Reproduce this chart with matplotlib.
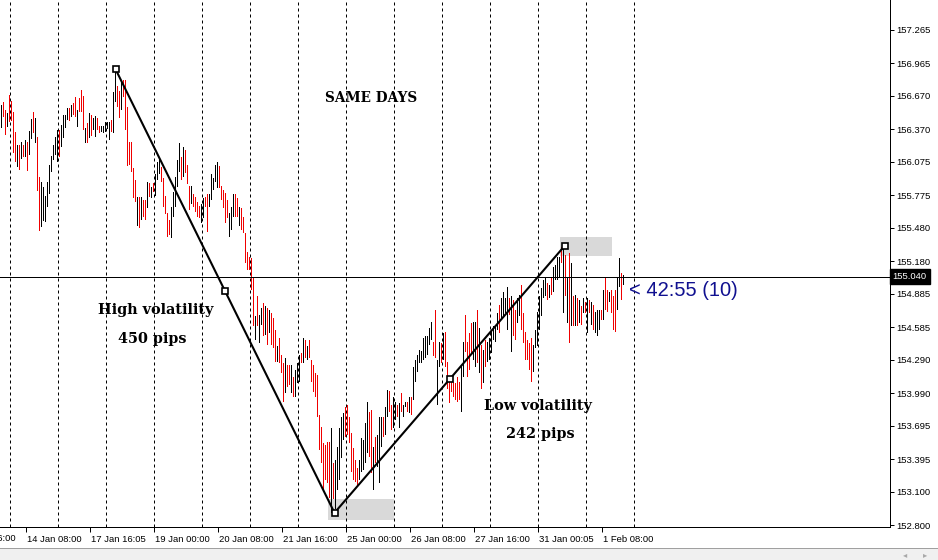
import matplotlib
matplotlib.use("Agg")
import matplotlib.pyplot as plt
import numpy as np
from matplotlib.patches import Rectangle
import matplotlib.transforms as mtransforms

# bar highs / lows (one bar per slot, left to right)
highs = [
    156.59, 156.61, 156.54, 156.51, 156.68, 156.62, 156.52, 156.34, 156.23, 156.23,
    156.25, 156.23, 156.27, 156.25, 156.35, 156.46, 156.52, 156.47, 156.30, 155.94,
    155.89, 155.85, 155.77, 155.89, 156.05, 156.13, 156.23, 156.30, 156.36, 156.36,
    156.41, 156.50, 156.50, 156.56, 156.56, 156.59, 156.60, 156.66, 156.54, 156.65,
    156.72, 156.67, 156.38, 156.42, 156.51, 156.50, 156.47, 156.49, 156.47, 156.40,
    156.40, 156.40, 156.43, 156.43, 156.43, 156.45, 156.70, 156.91, 156.76, 156.71,
    156.81, 156.81, 156.81, 156.57, 156.25, 156.25, 156.02, 155.91, 155.76, 155.76,
    155.76, 155.73, 155.73, 155.89, 155.88, 155.85, 155.88, 155.96, 156.07, 156.11,
    156.03, 155.93, 155.77, 155.61, 155.55, 155.67, 155.80, 155.94, 156.09, 156.24,
    156.12, 156.21, 156.18, 156.05, 155.86, 155.86, 155.78, 155.76, 155.71, 155.68,
    155.69, 155.75, 155.76, 155.78, 155.78, 155.96, 155.93, 156.05, 156.07, 156.04,
    155.86, 155.82, 155.79, 155.73, 155.61, 155.67, 155.78, 155.78, 155.75, 155.67,
    155.66, 155.58, 155.43, 155.26, 155.22, 155.21, 155.04, 154.68, 154.86, 154.69,
    154.76, 154.80, 154.77, 154.76, 154.74, 154.71, 154.67, 154.56, 154.41, 154.49,
    154.33, 154.26, 154.31, 154.24, 154.24, 154.24, 154.13, 154.20, 154.26, 154.33,
    154.35, 154.49, 154.47, 154.41, 154.47, 154.29, 154.24, 154.17, 154.15, 153.79,
    153.68, 153.54, 153.52, 153.55, 153.55, 153.67, 153.36, 153.39, 153.50, 153.67,
    153.77, 153.81, 153.86, 153.88, 153.77, 153.63, 153.49, 153.39, 153.31, 153.39,
    153.58, 153.57, 153.72, 153.91, 153.82, 153.84, 153.50, 153.59, 153.61, 153.77,
    153.77, 153.77, 153.86, 154.02, 154.01, 153.88, 153.95, 153.91, 153.88, 153.90,
    153.99, 153.88, 153.91, 153.91, 153.95, 153.95, 154.22, 154.29, 154.33, 154.38,
    154.37, 154.49, 154.50, 154.50, 154.58, 154.63, 154.45, 154.74, 154.29, 154.45,
    154.44, 154.53, 154.54, 154.27, 154.13, 154.13, 154.09, 154.08, 154.13, 154.09,
    154.24, 154.45, 154.69, 154.45, 154.53, 154.62, 154.63, 154.63, 154.74, 154.58,
    154.42, 154.38, 154.47, 154.45, 154.49, 154.56, 154.59, 154.60, 154.71, 154.78,
    154.85, 154.90, 154.85, 154.95, 154.85, 154.86, 154.83, 154.74, 154.85, 154.87,
    154.96, 154.71, 154.54, 154.47, 154.44, 154.49, 154.42, 154.56, 154.72, 154.86,
    154.94, 155.01, 155.03, 154.98, 154.96, 155.03, 155.13, 155.14, 155.22, 155.22,
    155.31, 155.32, 155.23, 155.04, 155.25, 155.16, 154.86, 154.87, 154.85, 154.83,
    154.77, 154.85, 154.81, 154.85, 154.83, 154.81, 154.78, 154.72, 154.74, 154.74,
    154.74, 154.92, 155.04, 154.92, 154.90, 154.92, 154.86, 154.92, 155.04, 155.21,
    155.07, 155.05,
]
lows = [
    156.38, 156.48, 156.32, 156.39, 156.43, 156.44, 156.15, 156.07, 156.03, 156.00,
    156.10, 156.12, 156.12, 155.99, 156.14, 156.28, 156.33, 156.24, 155.81, 155.45,
    155.49, 155.54, 155.53, 155.67, 155.78, 155.98, 156.09, 156.14, 156.07, 156.12,
    156.21, 156.29, 156.38, 156.45, 156.44, 156.48, 156.50, 156.48, 156.39, 156.52,
    156.52, 156.36, 156.24, 156.24, 156.29, 156.31, 156.36, 156.30, 156.36, 156.33,
    156.34, 156.33, 156.34, 156.37, 156.27, 156.34, 156.33, 156.61, 156.57, 156.47,
    156.54, 156.66, 156.36, 156.04, 156.05, 155.98, 155.75, 155.71, 155.50, 155.48,
    155.55, 155.58, 155.55, 155.66, 155.76, 155.75, 155.80, 155.77, 155.91, 155.96,
    155.89, 155.67, 155.60, 155.40, 155.41, 155.39, 155.58, 155.67, 155.85, 155.98,
    155.91, 155.94, 155.97, 155.87, 155.64, 155.69, 155.67, 155.62, 155.58, 155.57,
    155.52, 155.57, 155.67, 155.44, 155.67, 155.73, 155.82, 155.89, 155.84, 155.84,
    155.73, 155.66, 155.52, 155.57, 155.40, 155.46, 155.58, 155.58, 155.58, 155.50,
    155.46, 155.43, 155.16, 155.10, 155.10, 154.92, 154.59, 154.47, 154.59, 154.44,
    154.60, 154.50, 154.51, 154.42, 154.53, 154.42, 154.40, 154.27, 154.27, 154.26,
    154.17, 153.91, 153.99, 154.04, 154.06, 153.99, 153.95, 153.95, 154.08, 154.09,
    154.26, 154.26, 154.31, 154.29, 154.31, 154.09, 154.00, 153.95, 153.77, 153.48,
    153.36, 153.12, 153.21, 153.18, 153.04, 152.91, 153.03, 152.94, 153.12, 153.21,
    153.40, 153.57, 153.59, 153.61, 153.54, 153.28, 153.21, 153.19, 153.14, 153.21,
    153.28, 153.30, 153.36, 153.45, 153.41, 153.27, 153.12, 153.36, 153.32, 153.18,
    153.50, 153.59, 153.61, 153.77, 153.82, 153.66, 153.67, 153.75, 153.77, 153.67,
    153.82, 153.77, 153.86, 153.82, 153.81, 153.79, 153.93, 154.09, 154.18, 154.26,
    154.26, 154.29, 154.31, 154.33, 154.42, 154.47, 154.32, 154.31, 153.88, 154.22,
    154.26, 154.29, 154.22, 154.03, 153.90, 154.00, 153.95, 153.93, 153.91, 153.93,
    153.82, 154.13, 154.36, 154.13, 154.20, 154.33, 154.29, 154.22, 154.26, 154.17,
    154.03, 154.08, 154.22, 154.27, 154.29, 154.35, 154.47, 154.45, 154.56, 154.53,
    154.65, 154.67, 154.71, 154.56, 154.69, 154.36, 154.50, 154.47, 154.62, 154.68,
    154.56, 154.44, 154.29, 154.29, 154.20, 154.09, 154.18, 154.40, 154.41, 154.56,
    154.68, 154.85, 154.86, 154.83, 154.85, 154.87, 154.90, 155.01, 155.01, 155.04,
    155.16, 154.71, 154.86, 154.62, 154.44, 154.59, 154.59, 154.59, 154.59, 154.62,
    154.60, 154.71, 154.71, 154.53, 154.71, 154.60, 154.56, 154.53, 154.50, 154.56,
    154.65, 154.65, 154.74, 154.72, 154.81, 154.71, 154.56, 154.54, 154.74, 154.95,
    154.83, 154.96,
]
# r = down bar (red), k = up bar (black)
bar_dirs = ("krrkrrrrkr" "krkrkkrkrr" "kkkkkkkkkr" "kkkkrkrrkr" "rrkrkrkkrr"
            "kkkkkrkkrr" "krrrrrrrkr" "krrkrkrkkk" "rrrrrkkkkk" "rkrrrkrrrr"
            "kkrrkkkkkr" "rrrrkkkrrk" "rrrrrrrkrk" "krkrkrrrkr" "rrkrrkrkkk"
            "rkrkrrrrrr" "rrrrrkrkkk" "kkrrrrrrrk" "kkkkrrkrkk" "krkkrrkkrk"
            "rkkrkrkkkk" "kkkkkkrrkk" "rkrrrrrrrr" "kkrrrrkkrk" "rkrkkkkkkr"
            "kkkkrkrrkk" "rrrrrrkkkk" "kkkrkrkkkk" "rkrkrkrkrk" "rkrkrkrkkk"
            "rkrrkrrrkkrk")

price_ticks = [157.265, 156.965, 156.670, 156.370, 156.075, 155.775, 155.480, 155.180,
               154.885, 154.585, 154.290, 153.990, 153.695, 153.395, 153.100, 152.800]
time_ticks = [12, 44, 76, 108, 140, 172, 204, 236, 268, 300]
time_labels = ["14 Jan 08:00", "17 Jan 16:05", "19 Jan 00:00", "20 Jan 08:00",
               "21 Jan 16:00", "25 Jan 00:00", "26 Jan 08:00", "27 Jan 16:00",
               "31 Jan 00:05", "1 Feb 08:00"]
grid_bars = list(range(4, 317, 24))
current_price = 155.040

# trend line anchors (bar, price)
trend_bars = [57, 166.5, 281.5]
trend_prices = [156.91, 152.91, 155.315]

# shaded boxes: (bar from, bar to, price low, price high)
boxes = [(163, 196, 152.845, 153.035), (279, 305, 155.225, 155.397)]

RED = "#f00000"
tick_font = "Liberation Sans"
PX = 0.72  # one pixel in points at 100 dpi

fig = plt.figure(figsize=(9.38, 5.6), dpi=100)
ax = fig.add_axes([0, 33 / 560, 890 / 938, 527 / 560])
ax.set_xlim(-0.75, 444.25)
ax.set_ylim(152.782, 157.533)

for b in grid_bars:
    ax.axvline(b, color="black", lw=PX, ls=(0, (3, 3)), zorder=1)

for x0, x1, p0, p1 in boxes:
    ax.add_patch(Rectangle((x0, p0), x1 - x0, p1 - p0, facecolor="#d9d9d9",
                           edgecolor="none", zorder=0.5))

# high-low bars, one pixel wide
idx = np.arange(len(highs))
hi = np.array(highs)
lo = np.array(lows)
cols = [RED if c == "r" else "black" for c in bar_dirs[:len(highs)]]
ax.bar(idx, hi - lo, bottom=lo, width=0.5, color=cols, linewidth=0, zorder=2)

ax.axhline(current_price, color="black", lw=PX, zorder=2)

ax.plot(trend_bars, trend_prices, color="black", lw=1.5, zorder=3)
mid_bars = [(trend_bars[0] + trend_bars[1]) / 2, (trend_bars[1] + trend_bars[2]) / 2]
mid_prices = [(trend_prices[0] + trend_prices[1]) / 2, (trend_prices[1] + trend_prices[2]) / 2]
ax.plot(trend_bars + mid_bars, trend_prices + mid_prices, ls="none", marker="s",
        ms=4.5, mfc="white", mec="black", mew=1.2, zorder=4)

# annotations
serif = dict(family="DejaVu Serif", weight="bold", color="black", ha="center", va="center")
ax.text(185, 156.65, "SAME DAYS", fontsize=9.8, **serif)
ax.text(77, 154.74, "High volatility", fontsize=10.4, **serif)
ax.text(75.5, 154.48, "450 pips", fontsize=10.4, **serif)
ax.text(268, 153.87, "Low volatility", fontsize=10.4, **serif)
ax.text(269.5, 153.62, "242 pips", fontsize=10.4, **serif)
ax.text(313.5, 154.91, "< 42:55 (10)", fontsize=14.5, color="#101090",
        family=tick_font, ha="left", va="center")

# axes look (MT4 style)
for s in ["left", "top"]:
    ax.spines[s].set_visible(False)
for s in ["right", "bottom"]:
    ax.spines[s].set_linewidth(PX)
ax.yaxis.tick_right()
ax.set_yticks(price_ticks)
ax.set_yticklabels([f"{p:.3f}" for p in price_ticks], fontsize=6.8, family=tick_font)
ax.tick_params(axis="y", length=3, width=PX, pad=1.5, direction="out")
ax.set_xticks(time_ticks)
ax.set_xticklabels(time_labels, fontsize=6.8, family=tick_font)
ax.tick_params(axis="x", length=3.5, width=PX, pad=2, direction="out")
offset = mtransforms.ScaledTranslation(1.5 / 100, 0, fig.dpi_scale_trans)
for lab in ax.get_xticklabels():
    lab.set_horizontalalignment("left")
    lab.set_transform(lab.get_transform() + offset)
# label partly outside the left edge, as in the terminal window
ax.text(-20, -0.013, "13 Jan 16:00", transform=ax.get_xaxis_transform(), fontsize=6.8,
        family=tick_font, ha="left", va="top", clip_on=False)

# current price tag
ax.text(1.003, current_price, f"{current_price:.3f}", transform=ax.get_yaxis_transform(),
        color="white", fontsize=6.8, family=tick_font, ha="left", va="center",
        bbox=dict(boxstyle="square,pad=0.3", fc="black", ec="black"), zorder=5, clip_on=False)

# bottom scroll strip
fig.patches.append(Rectangle((0, 0), 1, 12 / 560, transform=fig.transFigure,
                             facecolor="#f0f0f0", edgecolor="none"))
fig.lines.append(plt.Line2D([0, 1], [12 / 560, 12 / 560], transform=fig.transFigure,
                            color="#a0a0a0", lw=PX))
fig.text(905 / 938, 5 / 560, "\u25c2", fontsize=6, color="#a8a8a8", ha="center", va="center")
fig.text(925 / 938, 5 / 560, "\u25b8", fontsize=6, color="#a8a8a8", ha="center", va="center")

fig.savefig("out.png", dpi=100)
